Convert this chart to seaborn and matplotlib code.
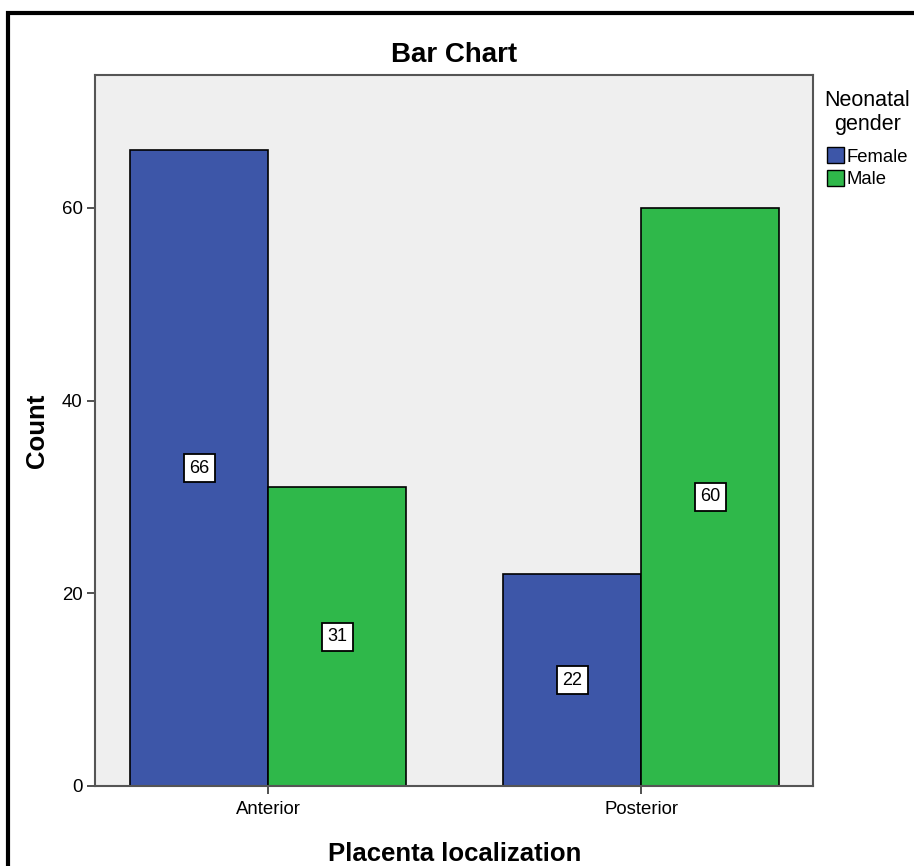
import matplotlib
matplotlib.use("Agg")
import matplotlib.pyplot as plt
import pandas as pd
import seaborn as sns
from matplotlib.patches import Rectangle

# Data
locations = ["Anterior", "Anterior", "Posterior", "Posterior"]
genders = ["Female", "Male", "Female", "Male"]
counts = [66, 31, 22, 60]

COLORS = {"Female": "#3D56A8", "Male": "#2FB84A"}

sns.set_theme(style="white")
plt.rcParams["font.family"] = ["Liberation Sans", "DejaVu Sans"]
plt.rcParams["text.color"] = "black"
plt.rcParams["axes.labelcolor"] = "black"
plt.rcParams["xtick.color"] = "black"
plt.rcParams["ytick.color"] = "black"

df = pd.DataFrame({"Placenta localization": locations,
                   "Neonatal gender": genders,
                   "Count": counts})

fig = plt.figure(figsize=(9.14, 8.66), dpi=100)
ax = fig.add_axes([0.104, 0.0924, 0.786, 0.821])

sns.barplot(data=df, x="Placenta localization", y="Count",
            hue="Neonatal gender", palette=COLORS, width=0.74,
            edgecolor="black", linewidth=1.2, saturation=1,
            ax=ax, legend=False)

for cont in ax.containers:
    ax.bar_label(cont, label_type="center", fontsize=13,
                 bbox=dict(boxstyle="square,pad=0.3", fc="white",
                           ec="black", lw=1.3))

ax.set_facecolor("#EFEFEF")
ax.set_xlim(-0.465, 1.462)
ax.set_ylim(0, 73.8)
ax.set_yticks([0, 20, 40, 60])
for sp in ax.spines.values():
    sp.set_color("#555555")
    sp.set_linewidth(1.5)
ax.tick_params(axis="both", direction="out", length=6, width=1.2,
               color="#333333", labelsize=13.4, left=True, bottom=True)
ax.tick_params(axis="x", pad=5)
ax.tick_params(axis="y", pad=3)
ax.set_title("Bar Chart", fontsize=20, fontweight="bold", pad=9)
ax.set_xlabel("Placenta localization", fontsize=18.5, fontweight="bold",
              labelpad=17)
ax.set_ylabel("Count", fontsize=18.5, fontweight="bold", labelpad=9)

handles = [Rectangle((0, 0), 1, 1, fc=COLORS[g], ec="black", lw=1)
           for g in ["Female", "Male"]]
leg = ax.legend(handles, ["Female", "Male"], title="Neonatal\ngender",
                loc="upper left", bbox_to_anchor=(0.995, 1.0),
                frameon=False, fontsize=13.3, title_fontsize=15.5,
                handlelength=0.95, handleheight=0.95, handletextpad=0.15,
                labelspacing=0.22, borderaxespad=0.4)
leg._legend_box.sep = 9
leg.get_title().set_multialignment("center")

# outer frame, cut by the right and bottom image edges
fig.patches.append(Rectangle((8 / 914, -0.05), 1.0, 1 - 13 / 866 + 0.05,
                             transform=fig.transFigure, fill=False,
                             ec="black", lw=3))

fig.savefig("out.png", dpi=100)
